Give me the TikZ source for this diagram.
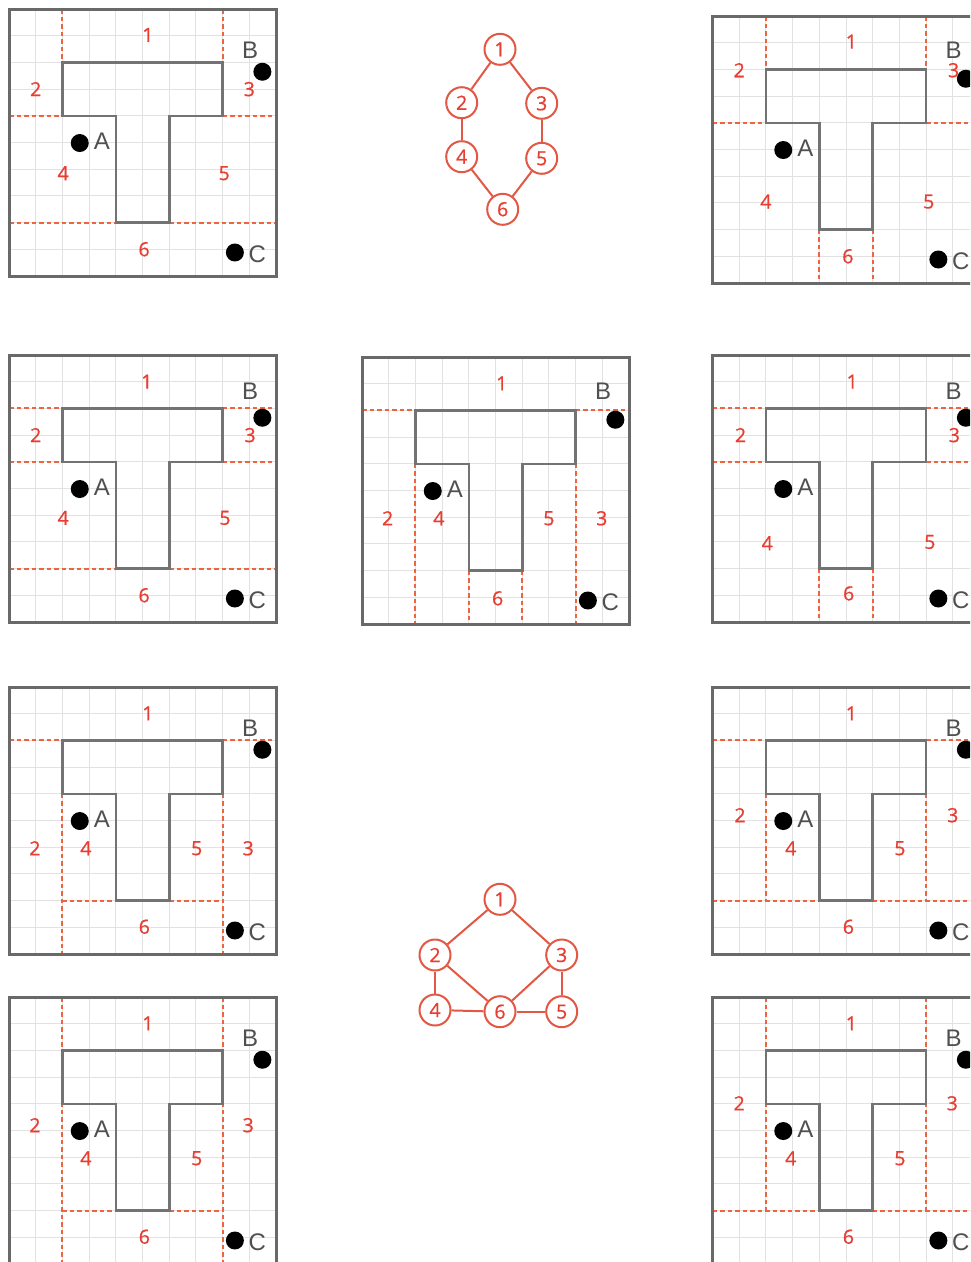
\documentclass[tikz,border=0pt]{standalone}
\usepackage{fontspec}
\setmainfont{Open Sans}
\newfontfamily\numfont[FakeBold=0.8]{Open Sans}
\newfontfamily\letterfont{Liberation Sans}
\definecolor{partred}{RGB}{238,100,60}
\definecolor{numred}{RGB}{232,62,50}
\definecolor{framegray}{RGB}{105,105,105}
\definecolor{tgray}{RGB}{115,115,115}
\definecolor{gridgray}{RGB}{226,226,226}
\definecolor{lettergray}{RGB}{80,80,80}
\definecolor{graphred}{RGB}{226,88,68}
\tikzset{
  gridline/.style={draw=gridgray, line width=1pt},
  frame/.style={draw=framegray, line width=3pt},
  tshape/.style={draw=tgray, line width=2.6pt, line join=miter},
  part/.style={draw=partred, line width=2pt, dash pattern=on 4.5pt off 3pt},
  reg/.style={text=numred, font=\numfont\fontsize{19.5}{19.5}\selectfont, inner sep=0pt},
  pt/.style={circle, fill=black, minimum size=18pt, inner sep=0pt},
  ptl/.style={text=lettergray, font=\letterfont\fontsize{24}{24}\selectfont, inner sep=0pt},
  gnode/.style={circle, draw=graphred, line width=2pt, minimum size=31pt, inner sep=0pt,
    text=numred, font=\numfont\fontsize{19.5}{19.5}\selectfont, fill=white},
  gedge/.style={draw=graphred, line width=2pt},
}
\newcommand{\tgrid}{%
  \foreach \i in {1,...,9} {\draw[gridline] (\i,0) -- (\i,10); \draw[gridline] (0,\i) -- (10,\i);}%
}
\newcommand{\tfinish}[2]{%
  \draw[tshape] (2,2) -- (8,2) -- (8,4) -- (6,4) -- (6,8) -- (4,8) -- (4,4) -- (2,4) -- cycle;
  \draw[frame] (0,0) rectangle (10,10);
  \node[pt] (#1-A) at (2.65,5.02) {};
  \node[ptl] (#1-Al) at (3.48,4.95) {A};
  \node[pt] (#1-B) at (9.49,2.35) {};
  \node[ptl] (#1-Bl) at (9.03,#2) {B};
  \node[pt] (#1-C) at (8.46,9.12) {};
  \node[ptl] (#1-Cl) at (9.3,9.17) {C};
}
\newcommand{\regs}[7]{% name, then six positions
  \node[reg] (#1-r1) at #2 {1};
  \node[reg] (#1-r2) at #3 {2};
  \node[reg] (#1-r3) at #4 {3};
  \node[reg] (#1-r4) at #5 {4};
  \node[reg] (#1-r5) at #6 {5};
  \node[reg] (#1-r6) at #7 {6};
}
\begin{document}
\begin{tikzpicture}[x=1pt,y=-1pt]
\useasboundingbox (0,0) rectangle (970,1262);
\fill[white] (0,0) rectangle (970,1262);
\clip (0,0) rectangle (970,1262);

% P1
\begin{scope}[shift={(9pt,-9pt)}, x=26.7pt, y=-26.7pt]
  \tgrid
  \draw[part] (2,0) -- (2,2); \draw[part] (8,0) -- (8,2);
  \draw[part] (0,4) -- (2,4); \draw[part] (8,4) -- (10,4);
  \draw[part] (0,8) -- (4,8); \draw[part] (6,8) -- (10,8);
  \tfinish{p1}{1.55}
  \regs{p1}{(5.2,0.97)}{(1.0,3.0)}{(9.0,3.0)}{(2.03,6.15)}{(8.06,6.15)}{(5.06,9.0)}
\end{scope}

% P2
\begin{scope}[shift={(712.5pt,-16pt)}, x=26.7pt, y=-26.7pt]
  \tgrid
  \draw[part] (2,0) -- (2,2); \draw[part] (8,0) -- (8,2);
  \draw[part] (0,4) -- (2,4); \draw[part] (8,4) -- (10,4);
  \draw[part] (4,8) -- (4,10); \draw[part] (6,8) -- (6,10);
  \tfinish{p2}{1.27}
  \regs{p2}{(5.2,0.96)}{(1.0,2.03)}{(9.03,2.03)}{(2.0,6.95)}{(8.1,6.95)}{(5.07,9.0)}
\end{scope}

% P3
\begin{scope}[shift={(9pt,-355pt)}, x=26.7pt, y=-26.7pt]
  \tgrid
  \draw[part] (0,2) -- (2,2); \draw[part] (8,2) -- (10,2);
  \draw[part] (0,4) -- (2,4); \draw[part] (8,4) -- (10,4);
  \draw[part] (0,8) -- (4,8); \draw[part] (6,8) -- (10,8);
  \tfinish{p3}{1.37}
  \regs{p3}{(5.16,1.0)}{(1.0,3.0)}{(9.03,3.0)}{(2.03,6.1)}{(8.09,6.1)}{(5.06,9.0)}
\end{scope}

% P4
\begin{scope}[shift={(362pt,-357pt)}, x=26.7pt, y=-26.7pt]
  \tgrid
  \draw[part] (0,2) -- (2,2); \draw[part] (8,2) -- (10,2);
  \draw[part] (2,4) -- (2,10); \draw[part] (8,4) -- (8,10);
  \draw[part] (4,8) -- (4,10); \draw[part] (6,8) -- (6,10);
  \tfinish{p4}{1.3}
  \regs{p4}{(5.23,0.99)}{(0.96,6.04)}{(8.98,6.04)}{(2.88,6.04)}{(7.0,6.04)}{(5.08,9.04)}
\end{scope}

% P5
\begin{scope}[shift={(712.5pt,-355pt)}, x=26.7pt, y=-26.7pt]
  \tgrid
  \draw[part] (0,2) -- (2,2); \draw[part] (8,2) -- (10,2);
  \draw[part] (0,4) -- (2,4); \draw[part] (8,4) -- (10,4);
  \draw[part] (4,8) -- (4,10); \draw[part] (6,8) -- (6,10);
  \tfinish{p5}{1.37}
  \regs{p5}{(5.23,1.0)}{(1.05,3.0)}{(9.06,3.0)}{(2.05,7.05)}{(8.14,7.0)}{(5.1,8.93)}
\end{scope}

% P6
\begin{scope}[shift={(9pt,-687pt)}, x=26.7pt, y=-26.7pt]
  \tgrid
  \draw[part] (0,2) -- (2,2); \draw[part] (8,2) -- (10,2);
  \draw[part] (2,4) -- (2,10); \draw[part] (8,4) -- (8,10);
  \draw[part] (2,8) -- (4,8); \draw[part] (6,8) -- (8,8);
  \tfinish{p6}{1.55}
  \regs{p6}{(5.2,0.99)}{(0.97,6.04)}{(8.96,6.04)}{(2.88,6.04)}{(7.03,6.04)}{(5.07,8.98)}
\end{scope}

% P7
\begin{scope}[shift={(712.5pt,-687pt)}, x=26.7pt, y=-26.7pt]
  \tgrid
  \draw[part] (0,2) -- (2,2); \draw[part] (8,2) -- (10,2);
  \draw[part] (2,4) -- (2,8); \draw[part] (8,4) -- (8,8);
  \draw[part] (0,8) -- (4,8); \draw[part] (6,8) -- (10,8);
  \tfinish{p7}{1.55}
  \regs{p7}{(5.2,0.99)}{(1.03,4.8)}{(9.0,4.8)}{(2.93,6.04)}{(7.02,6.04)}{(5.09,8.98)}
\end{scope}

% P8
\begin{scope}[shift={(9pt,-997pt)}, x=26.7pt, y=-26.7pt]
  \tgrid
  \draw[part] (2,0) -- (2,10); \draw[part] (8,0) -- (8,10);
  \draw[part] (2,8) -- (4,8); \draw[part] (6,8) -- (8,8);
  \tfinish{p8}{1.55}
  \regs{p8}{(5.2,0.99)}{(0.97,4.8)}{(8.96,4.8)}{(2.88,6.04)}{(7.03,6.04)}{(5.07,8.98)}
\end{scope}

% P9
\begin{scope}[shift={(712.5pt,-997pt)}, x=26.7pt, y=-26.7pt]
  \tgrid
  \draw[part] (2,0) -- (2,8); \draw[part] (8,0) -- (8,8);
  \draw[part] (0,8) -- (4,8); \draw[part] (6,8) -- (10,8);
  \tfinish{p9}{1.55}
  \regs{p9}{(5.2,0.99)}{(1.0,3.98)}{(8.98,3.98)}{(2.93,6.04)}{(7.02,6.04)}{(5.09,8.98)}
\end{scope}

% Graph 1
\node[gnode] (a1) at (500,49.3) {1};
\node[gnode] (a2) at (461.7,102.7) {2};
\node[gnode] (a3) at (541.7,103.3) {3};
\node[gnode] (a4) at (461.7,156.7) {4};
\node[gnode] (a5) at (541.7,158.3) {5};
\node[gnode] (a6) at (502.7,209.3) {6};
\draw[gedge] (a1) -- (a2);
\draw[gedge] (a1) -- (a3);
\draw[gedge] (a2) -- (a4);
\draw[gedge] (a3) -- (a5);
\draw[gedge] (a4) -- (a6);
\draw[gedge] (a5) -- (a6);

% Graph 2
\node[gnode] (b1) at (500,899.3) {1};
\node[gnode] (b2) at (435,955) {2};
\node[gnode] (b3) at (561.7,955) {3};
\node[gnode] (b4) at (435,1010) {4};
\node[gnode] (b6) at (500,1011.7) {6};
\node[gnode] (b5) at (561.7,1011.7) {5};
\draw[gedge] (b1) -- (b2);
\draw[gedge] (b1) -- (b3);
\draw[gedge] (b2) -- (b4);
\draw[gedge] (b2) -- (b6);
\draw[gedge] (b3) -- (b6);
\draw[gedge] (b3) -- (b5);
\draw[gedge] (b4) -- (b6);
\draw[gedge] (b6) -- (b5);
\end{tikzpicture}
\end{document}
